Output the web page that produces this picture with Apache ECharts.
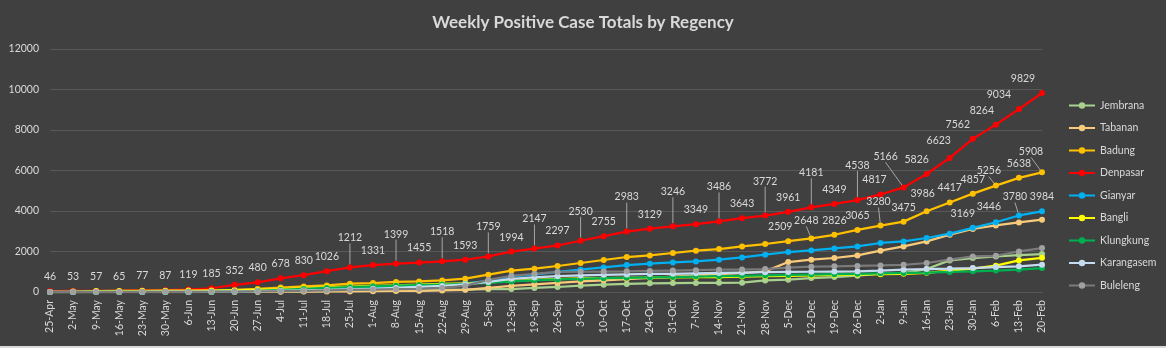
<!DOCTYPE html>
<html>
<head>
<meta charset="utf-8">
<script src="https://cdn.jsdelivr.net/npm/echarts@6/dist/echarts.min.js"></script>
<style>
  html, body { margin: 0; padding: 0; background: #d9d9d9; }
  #chart { width: 1166px; height: 346px; }
</style>
</head>
<body>
<div id="chart"></div>
<script>
// Week-ending dates
const weeks = ['25-Apr','2-May','9-May','16-May','23-May','30-May','6-Jun','13-Jun','20-Jun','27-Jun',
  '4-Jul','11-Jul','18-Jul','25-Jul','1-Aug','8-Aug','15-Aug','22-Aug','29-Aug','5-Sep',
  '12-Sep','19-Sep','26-Sep','3-Oct','10-Oct','17-Oct','24-Oct','31-Oct','7-Nov','14-Nov',
  '21-Nov','28-Nov','5-Dec','12-Dec','19-Dec','26-Dec','2-Jan','9-Jan','16-Jan','23-Jan',
  '30-Jan','6-Feb','13-Feb','20-Feb'];

// Cumulative positive cases per regency
const jembrana = [0,0,0,1,2,3,4,5,8,15,25,35,45,55,65,75,85,100,120,140,148,198,247,311,360,400,430,440,450,455,460,574,607,690,739,805,904,937,1134,1561,1678,1758,1827,1876];
const tabanan = [0,0,0,0,0,0,0,2,5,10,15,20,25,30,40,50,60,80,110,200,300,380,450,520,580,640,700,760,820,880,930,1017,1481,1595,1679,1807,2040,2252,2499,2830,3111,3289,3437,3570];
const badung = [0,0,2,4,6,8,10,20,100,150,220,277,326,410,443,494,524,573,657,854,1052,1151,1284,1432,1580,1728,1807,1926,2040,2123,2252,2370,2509,2648,2826,3065,3280,3475,3986,4417,4857,5256,5638,5908];
const denpasar = [46,53,57,65,77,87,119,185,352,480,678,830,1026,1212,1331,1399,1455,1518,1593,1759,1994,2147,2297,2530,2755,2983,3129,3246,3349,3486,3643,3772,3961,4181,4349,4538,4817,5166,5826,6623,7562,8264,9034,9829];
const gianyar = [0,0,1,2,3,4,5,8,25,50,90,130,170,200,240,280,320,360,410,560,772,854,988,1101,1215,1333,1398,1462,1511,1595,1709,1842,1975,2054,2153,2252,2420,2499,2667,2879,3169,3446,3780,3984];
const bangli = [5,20,45,55,60,65,70,75,80,100,130,180,230,270,300,330,360,400,430,480,540,600,640,670,690,700,710,720,730,740,760,780,800,820,840,860,880,900,950,1050,1160,1300,1560,1690];
const klungkung = [0,2,4,6,8,10,12,15,30,60,100,150,200,240,280,310,340,370,400,450,520,580,620,650,680,700,720,740,760,780,800,820,840,860,880,900,920,940,960,990,1020,1060,1110,1180];
const karangasem = [2,5,8,10,12,15,18,20,30,40,60,80,100,130,160,200,250,300,380,500,650,720,780,820,850,870,890,900,920,940,960,980,990,1000,1010,1020,1052,1101,1134,1150,1184,1234,1266,1349];
const buleleng = [1,2,3,5,8,10,12,15,20,30,40,60,80,100,120,140,160,200,300,600,800,900,988,1000,1010,1020,1040,1060,1080,1100,1110,1134,1200,1250,1270,1290,1310,1340,1432,1595,1758,1790,2005,2170];

// First week index that carries a value label, per labelled series
const badungLabelFrom = 32;
const gianyarLabelFrom = 40;

const FONT = 'Lato, "Open Sans", sans-serif';
const TEXT = '#d9d9d9';

// Denpasar labels alternate between close and lifted (with a leader line)
function denpasarNudge(i) {
  if (i >= 13 && i <= 35 && i % 2 === 1) return { dx: 0, dy: i >= 25 ? -20 : -15, line: true };
  if (i === 36) return { dx: -6, dy: 0 };
  if (i === 37) return { dx: -18, dy: -16, line: true };
  if (i >= 38) return { dx: [-10, -11, -15, -14, -20, -19][i - 38], dy: i === 39 ? -3 : 0 };
  return { dx: 0, dy: 0 };
}
function badungNudge(i) {
  const m = { 32: [-8, 0], 33: [-5, -3, 1], 36: [-2, -9, 1], 38: [-4, -3], 41: [-7, 0, 1], 43: [-11, -6, 1] };
  const v = m[i] || [0, 0];
  return { dx: v[0], dy: v[1], line: !!v[2] };
}
function gianyarNudge(i) {
  const m = { 40: [-10, 0], 41: [-7, -1], 42: [-4, -4, 1] };
  const v = m[i] || [0, 0];
  return { dx: v[0], dy: v[1], line: !!v[2] };
}

function labelledData(values, from, nudge) {
  return values.map((v, i) => {
    if (i < from) return { value: v, label: { show: false } };
    const n = nudge(i);
    return { value: v, label: { show: true }, labelLine: { show: !!n.line } };
  });
}

const labelStyle = {
  position: 'top', distance: 6, color: TEXT, fontSize: 10.5, fontFamily: FONT,
  formatter: p => String(p.value)
};
const leader = { show: false, lineStyle: { color: '#a6a6a6', width: 1 }, length2: 0 };

function line(name, color, data, extra) {
  return Object.assign({
    name, type: 'line', data,
    symbol: 'circle', symbolSize: 6,
    lineStyle: { color, width: 2.25 },
    itemStyle: { color },
    emphasis: { disabled: true },
    animation: false
  }, extra || {});
}

const chart = echarts.init(document.getElementById('chart'), null, { renderer: 'canvas' });
chart.setOption({
  backgroundColor: '#404040',
  textStyle: { fontFamily: FONT },
  title: {
    text: 'Weekly Positive Case Totals by Regency',
    left: 'center', top: 9,
    textStyle: { color: TEXT, fontSize: 17, fontWeight: 'bold', fontFamily: FONT }
  },
  legend: {
    orient: 'vertical', left: 1063, top: 94,
    itemWidth: 26, itemHeight: 8, itemGap: 9.5,
    textStyle: { color: TEXT, fontSize: 10.5, fontFamily: FONT, lineHeight: 13 },
    data: ['Jembrana','Tabanan','Badung','Denpasar','Gianyar','Bangli','Klungkung','Karangasem','Buleleng']
  },
  grid: { left: 50, right: 124, top: 49, bottom: 54, containLabel: false },
  xAxis: {
    type: 'category', data: weeks, boundaryGap: false,
    axisLine: { show: true, lineStyle: { color: '#595959' } },
    axisTick: { show: false },
    axisLabel: { rotate: 90, interval: 0, color: TEXT, fontSize: 10.5, fontFamily: FONT, margin: 8 }
  },
  yAxis: {
    type: 'value', min: 0, max: 12000, interval: 2000,
    axisLine: { show: false }, axisTick: { show: false },
    axisLabel: { color: TEXT, fontSize: 10.5, fontFamily: FONT, margin: 11, formatter: v => String(v) },
    splitLine: { lineStyle: { color: '#595959', width: 1 } }
  },
  series: [
    line('Jembrana', '#a9d18e', jembrana),
    line('Tabanan', '#f8cb7a', tabanan),
    line('Badung', '#ffc000', labelledData(badung, badungLabelFrom, badungNudge),
      { label: labelStyle, labelLine: leader,
        labelLayout: p => { const n = badungNudge(p.dataIndex); return { dx: n.dx, dy: n.dy }; } }),
    line('Denpasar', '#ff0000', labelledData(denpasar, 0, denpasarNudge),
      { label: labelStyle, labelLine: leader,
        labelLayout: p => { const n = denpasarNudge(p.dataIndex); return { dx: n.dx, dy: n.dy }; } }),
    line('Gianyar', '#00b0f0', labelledData(gianyar, gianyarLabelFrom, gianyarNudge),
      { label: labelStyle, labelLine: leader,
        labelLayout: p => { const n = gianyarNudge(p.dataIndex); return { dx: n.dx, dy: n.dy }; } }),
    line('Bangli', '#ffff00', bangli),
    line('Klungkung', '#00b050', klungkung),
    line('Karangasem', '#c5dcf0', karangasem),
    line('Buleleng', '#7a7a7a', buleleng, { itemStyle: { color: '#a0a0a0' } })
  ]
});
</script>
</body>
</html>
